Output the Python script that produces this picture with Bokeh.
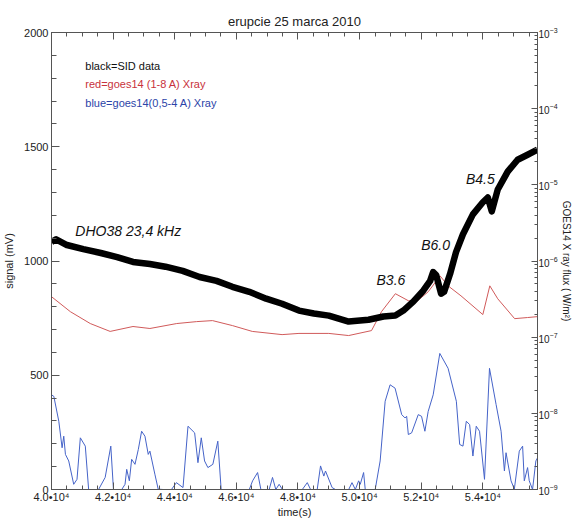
from bokeh.plotting import figure
from bokeh.models import Range1d, LinearAxis, LogAxis, LogScale, FixedTicker, Label, CustomJSTickFormatter
from bokeh.embed import file_html
from bokeh.resources import INLINE

# ---- data ----
sid_time = [40000, 40150, 40500, 41032, 41600, 42129, 42645, 43194, 43700, 44258,
            44806, 45355, 45871, 46419, 46968, 47484, 48032, 48516, 49000, 49645,
            50290, 50774, 51161, 51420, 51742, 52065, 52290, 52387, 52484, 52645,
            52742, 52935, 53130, 53355, 53677, 54000, 54160, 54290, 54484, 54806,
            55129, 55452, 55774]
sid_mv = [1083, 1095, 1070, 1052, 1035, 1017, 996, 987, 975, 957,
          930, 913, 887, 865, 835, 813, 783, 770, 761, 735,
          743, 757, 761, 783, 822, 870, 913, 952, 939, 857,
          865, 943, 1039, 1117, 1204, 1257, 1278, 1217, 1313, 1391,
          1443, 1465, 1487]

long_time = [40000, 40613, 41258, 41903, 42645, 43194, 44065, 44710, 45226, 45871,
             46516, 47484, 48032, 49000, 49645, 50387, 50710, 51161, 51581, 51839,
             52226, 52613, 52871, 53290, 54000, 54226, 54484, 55032, 55452, 55774]
long_flux = [3.40e-7, 2.16e-7, 1.51e-7, 1.19e-7, 1.38e-7, 1.30e-7, 1.51e-7, 1.60e-7, 1.65e-7, 1.42e-7,
             1.19e-7, 1.08e-7, 1.12e-7, 1.12e-7, 1.05e-7, 1.22e-7, 2.16e-7, 3.72e-7, 3.01e-7, 2.92e-7,
             3.94e-7, 6.37e-7, 4.72e-7, 3.49e-7, 1.98e-7, 4.72e-7, 3.19e-7, 1.75e-7, 1.81e-7, 1.86e-7]

short_time = [40000, 40076, 40237, 40344, 40398, 40452, 40559, 40721, 40828, 40936,
              41097, 41205, 41527, 41742, 41925, 42011, 42280, 42387, 42441, 42527,
              42602, 42710, 42818, 42925, 43033, 43140, 43194, 43355, 43463, 43624,
              43893, 44054, 44269, 44430, 44646, 44753, 44861, 44968, 45076, 45237,
              45398, 45506, 46420, 46527, 46689, 46796, 47065, 47173, 47280, 47388,
              47495, 48140, 48302, 48409, 48624, 48732, 48839, 48893, 49108, 49216,
              49646, 49753, 49861, 49968, 50022, 50130, 50183, 50506, 50667, 50829,
              50990, 51151, 51366, 51474, 51528, 51581, 51689, 51904, 52011, 52119,
              52226, 52388, 52603, 52872, 53140, 53248, 53355, 53463, 53571, 53678,
              53786, 53893, 54054, 54216, 54431, 54592, 54700, 54753, 54915, 55022,
              55183, 55291, 55345, 55452, 55506, 55613, 55721, 55774]
short_flux = [1.75e-8, 1.67e-8, 7.87e-9, 3.53e-9, 5.01e-9, 2.89e-9, 2.37e-9, 1.17e-9, 1.36e-9, 4.77e-9,
              3.71e-9, 1.0e-9, 1.0e-9, 1.44e-9, 3.71e-9, 1.0e-9, 1.0e-9, 1.17e-9, 1.84e-9, 1.30e-9,
              2.49e-9, 2.14e-9, 3.36e-9, 5.82e-9, 5.01e-9, 2.89e-9, 3.19e-9, 1.59e-9, 1.01e-9, 1.0e-9,
              1.0e-9, 1.23e-9, 1.06e-9, 6.77e-9, 5.54e-9, 2.25e-9, 4.77e-9, 2.37e-9, 1.94e-9, 2.14e-9,
              4.31e-9, 1.0e-9, 1.0e-9, 1.30e-9, 1.67e-9, 1.0e-9, 1.0e-9, 1.44e-9, 1.0e-9, 1.17e-9,
              1.0e-9, 1.0e-9, 1.23e-9, 1.0e-9, 1.0e-9, 2.04e-9, 1.50e-9, 1.75e-9, 1.06e-9, 1.0e-9,
              1.0e-9, 1.23e-9, 1.0e-9, 1.30e-9, 1.17e-9, 1.67e-9, 1.0e-9, 1.0e-9, 2.37e-9, 1.44e-8,
              2.37e-8, 2.14e-8, 9.62e-9, 8.70e-9, 9.14e-9, 5.27e-9, 5.54e-9, 9.62e-9, 9.14e-9, 5.82e-9,
              1.06e-8, 1.75e-8, 6.12e-8, 3.90e-8, 1.44e-8, 3.90e-9, 3.71e-9, 7.87e-9, 7.11e-9, 2.75e-9,
              6.77e-9, 5.82e-9, 1.36e-9, 3.90e-8, 1.30e-8, 5.82e-9, 1.75e-9, 3.04e-9, 1.30e-9, 1.01e-9,
              3.19e-9, 3.71e-9, 1.30e-9, 1.94e-9, 1.30e-9, 1.0e-9, 2.37e-9, 2.60e-9]

x_tick_values = [40000, 42000, 44000, 46000, 48000, 50000, 52000, 54000]
x_tick_labels = ["4.0\u202210\u2074", "4.2\u202210\u2074", "4.4\u202210\u2074", "4.6\u202210\u2074",
                 "4.8\u202210\u2074", "5.0\u202210\u2074", "5.2\u202210\u2074", "5.4\u202210\u2074"]
y_tick_values = [0, 500, 1000, 1500, 2000]
flux_exponents = [-9, -8, -7, -6, -5, -4, -3]

X0, X1 = 40000, 55774
FONT = "Liberation Sans"
AXIS_COL = "#555555"

p = figure(width=574, height=520,
           x_range=Range1d(X0, X1), y_range=Range1d(0, 2000),
           output_backend="svg", toolbar_location=None,
           min_border_left=51, min_border_right=34, min_border_top=32, min_border_bottom=28,
           title="erupcie 25 marca 2010", background_fill_color="white",
           border_fill_color="white")
p.title.align = "center"
p.title.text_font = FONT
p.title.text_font_size = "13px"
p.title.text_font_style = "normal"
p.title.text_color = "#222222"
p.title.standoff = 7
p.outline_line_color = AXIS_COL
p.xgrid.visible = False
p.ygrid.visible = False

p.extra_y_ranges = {"goes": Range1d(1e-9, 1e-3)}
p.extra_y_scales = {"goes": LogScale()}

x_minor = list(range(X0, 56000, 500))
xt = FixedTicker(ticks=x_tick_values, minor_ticks=x_minor)

def style_axis(ax, maj, mnr, size="11px"):
    ax.axis_line_color = AXIS_COL
    ax.major_tick_line_color = AXIS_COL
    ax.minor_tick_line_color = AXIS_COL
    ax.major_tick_in = maj
    ax.major_tick_out = 0
    ax.minor_tick_in = mnr
    ax.minor_tick_out = 0
    ax.major_label_text_font = FONT
    ax.major_label_text_font_size = size
    ax.major_label_text_color = "#222222"
    ax.axis_label_text_font = FONT
    ax.axis_label_text_font_size = "11px"
    ax.axis_label_text_font_style = "normal"
    ax.axis_label_text_color = "#222222"

xa = p.xaxis[0]
xa.ticker = xt
xa.major_label_overrides = {v: s for v, s in zip(x_tick_values, x_tick_labels)}
style_axis(xa, 7, 4)
xa.major_label_standoff = 1
xa.axis_label = "time(s)"
xa.axis_label_standoff = 0

ya = p.yaxis[0]
ya.ticker = FixedTicker(ticks=y_tick_values, minor_ticks=list(range(0, 2001, 100)))
style_axis(ya, 8, 5)
ya.major_label_standoff = 3
ya.axis_label = "signal (mV)"
ya.axis_label_standoff = 6

# mirrored tick marks along the top edge (no labels)
top = LinearAxis(ticker=xt, formatter=CustomJSTickFormatter(code="return ''"))
style_axis(top, 7, 4)
top.major_label_standoff = 0
p.add_layout(top, "above")

flux_major = [10.0 ** e for e in flux_exponents]
flux_minor = [m * 10.0 ** e for e in flux_exponents[:-1] for m in range(1, 10)] + [1e-3]
ra = LogAxis(y_range_name="goes", ticker=FixedTicker(ticks=flux_major, minor_ticks=flux_minor))
style_axis(ra, 6, 3, "10px")
ra.major_label_standoff = 1
ra.axis_label = "GOES14 X ray flux ( W/m\u00b2)"
ra.axis_label_standoff = 0
ra.axis_label_text_font_size = "10px"
p.add_layout(ra, "right")

# data lines
p.line(long_time, long_flux, y_range_name="goes", line_color="#d05a5a", line_width=1)
p.line(short_time, short_flux, y_range_name="goes", line_color="#4563c8", line_width=1)
p.line(sid_time, sid_mv, line_color="black", line_width=6.5, line_join="round")

def add_text(x, y, text, color="#111111", size="10px", style="normal", align="left"):
    p.add_layout(Label(x=x, y=y, text=text, text_color=color, text_font=FONT,
                       text_font_size=size, text_font_style=style,
                       text_align=align, text_baseline="middle"))

# legend texts
add_text(41097, 1852, "black=SID data", "#111111", "11px")
add_text(41097, 1774, "red=goes14 (1-8 A) Xray", "#c8323c", "11px")
add_text(41097, 1691, "blue=goes14(0,5-4 A) Xray", "#2c44a8", "11px")

# annotations
add_text(40774, 1130, "DHO38  23,4 kHz", "#111111", "14px", "italic")
add_text(50549, 917, "B3.6", "#111111", "14px", "italic")
add_text(52000, 1070, "B6.0", "#111111", "14px", "italic")
add_text(53452, 1357, "B4.5", "#111111", "14px", "italic")

open("out.html", "w").write(file_html(p, INLINE))
